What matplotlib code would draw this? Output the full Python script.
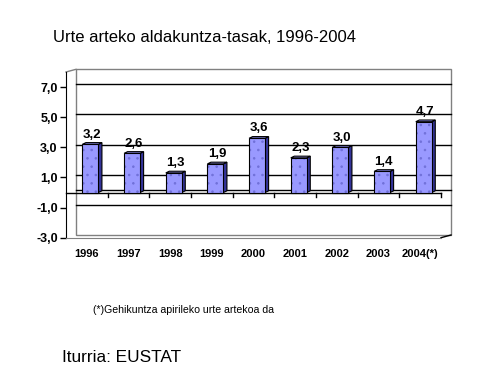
import matplotlib.pyplot as plt
from matplotlib.patches import Rectangle, Polygon

plt.rcParams['font.family'] = ['Liberation Sans', 'DejaVu Sans']
plt.rcParams['hatch.linewidth'] = 0.6

years = ["1996", "1997", "1998", "1999", "2000", "2001", "2002", "2003", "2004(*)"]
rates = [3.2, 2.6, 1.3, 1.9, 3.6, 2.3, 3.0, 1.4, 4.7]
yticks = [-3, -1, 1, 3, 5, 7]

front_col = "#9999FF"
side_col = "#333399"
wall_col = "#808080"

W, H = 487, 386
fig = plt.figure(figsize=(W / 100, H / 100), dpi=100)
# front frame of the 3d chart, in pixels
x0, x1, ytop, ybot = 66, 441, 72, 237.7
ax = fig.add_axes([x0 / W, 1 - ybot / H, (x1 - x0) / W, (ybot - ytop) / H])
n = len(years)
ymin, ymax = -3, 8
ax.set_xlim(0, n)
ax.set_ylim(ymin, ymax)


def px2x(p):
    return p * n / (x1 - x0)


def px2y(p):
    return p * (ymax - ymin) / (ybot - ytop)


# back wall
wx, wy = px2x(10), px2y(2.7)
ax.add_patch(Rectangle((wx, ymin + wy), n, ymax - ymin, facecolor="white",
                       edgecolor=wall_col, lw=1, clip_on=False, zorder=0))
ax.plot([0, wx], [ymax, ymax + wy], color=wall_col, lw=1, clip_on=False, zorder=1)
ax.plot([n, n + wx], [ymin, ymin + wy], color="black", lw=1, clip_on=False, zorder=1)
for v in yticks[1:] + [0]:
    ax.plot([wx, n + wx], [v + wy, v + wy], color="black", lw=1, clip_on=False, zorder=1)

# floor at zero
ax.plot([0, n], [0, 0], color="black", lw=1, clip_on=False, zorder=2)
for i in range(1, n + 1):
    ax.plot([i, i], [0, -px2y(4)], color="black", lw=1, clip_on=False, zorder=2)

# bars
bw = px2x(16)
shift = px2x(3.6)
ddx, ddy = px2x(3.5), px2y(1.7)
for i, v in enumerate(rates):
    xl = i + 0.5 - bw / 2 + shift
    xr = xl + bw
    ax.add_patch(Polygon([(xr, 0), (xr + ddx, ddy), (xr + ddx, v + ddy), (xr, v)],
                         facecolor=side_col, edgecolor="black", lw=0.8, zorder=3))
    ax.add_patch(Polygon([(xl, v), (xl + ddx, v + ddy), (xr + ddx, v + ddy), (xr, v)],
                         facecolor=front_col, edgecolor="black", lw=0.8, zorder=3))
    ax.add_patch(Rectangle((xl, 0), bw, v, facecolor=front_col, edgecolor="#7070D8",
                           hatch="..", lw=0, zorder=4))
    ax.add_patch(Rectangle((xl, 0), bw, v, facecolor="none", edgecolor="black",
                           lw=0.8, zorder=5))
    ax.annotate(f"{v:.1f}".replace(".", ","), (xl + bw / 2 + ddx / 2, v + ddy),
                xytext=(0, 1.5), textcoords="offset points", ha="center", va="bottom",
                fontsize=9.5, fontweight="bold", zorder=6)

for s in ["top", "right"]:
    ax.spines[s].set_visible(False)
ax.spines["left"].set_color("black")
ax.spines["bottom"].set_color(wall_col)
ax.set_yticks(yticks)
ax.set_yticklabels([f"{v:.1f}".replace(".", ",") for v in yticks],
                   fontsize=9, fontweight="bold")
ax.tick_params(axis="y", length=4, width=1, pad=2, direction="out")
ax.set_xticks([i + 0.5 for i in range(n)])
ax.set_xticklabels(years, fontsize=8, fontweight="bold")
ax.tick_params(axis="x", length=0, pad=8)
ax.set_facecolor("none")

fig.text(53 / W, 1 - 42.3 / H, "Urte arteko aldakuntza-tasak, 1996-2004",
         fontsize=12, va="baseline", ha="left")
fig.text(93 / W, 1 - 313 / H, "(*)Gehikuntza apirileko urte artekoa da",
         fontsize=7.6, va="baseline", ha="left")
fig.text(62 / W, 1 - 361.7 / H, "Iturria: EUSTAT",
         fontsize=12.4, va="baseline", ha="left")

fig.savefig("out.png", dpi=100)
